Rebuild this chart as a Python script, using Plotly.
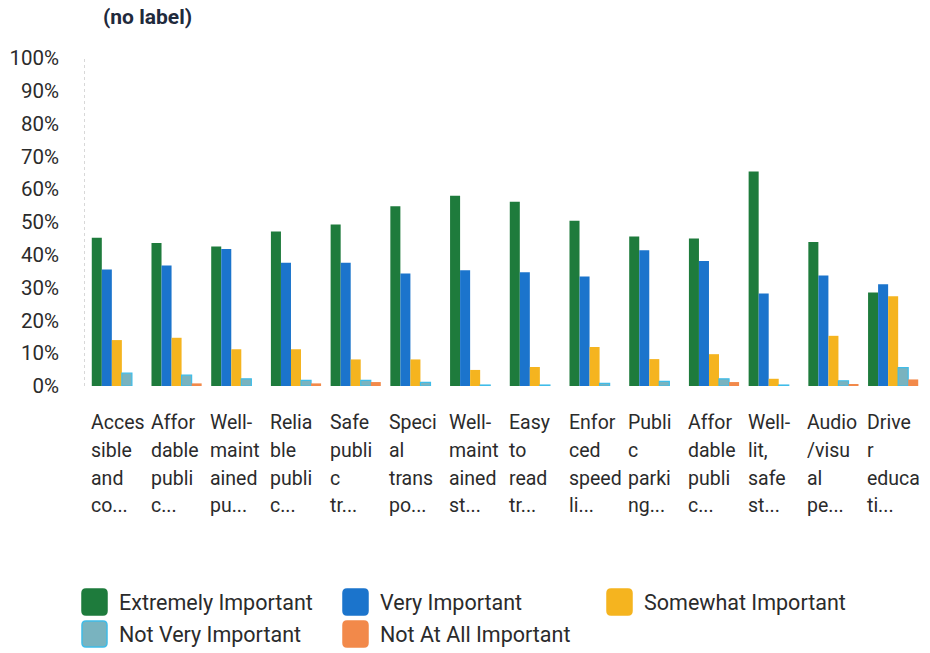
import plotly.graph_objects as go

categories = [
    "Acces<br>sible<br>and<br>co...",
    "Affor<br>dable<br>publi<br>c...",
    "Well-<br>maint<br>ained<br>pu...",
    "Relia<br>ble<br>publi<br>c...",
    "Safe<br>publi<br>c<br>tr...",
    "Speci<br>al<br>trans<br>po...",
    "Well-<br>maint<br>ained<br>st...",
    "Easy<br>to<br>read<br>tr...",
    "Enfor<br>ced<br>speed<br>li...",
    "Publi<br>c<br>parki<br>ng...",
    "Affor<br>dable<br>publi<br>c...",
    "Well-<br>lit,<br>safe<br>st...",
    "Audio<br>/visu<br>al<br>pe...",
    "Drive<br>r<br>educa<br>ti...",
]

series_names = ["Extremely Important", "Very Important", "Somewhat Important",
                "Not Very Important", "Not At All Important"]

extremely = [45.2, 43.6, 42.5, 47.1, 49.2, 54.8, 58.0, 56.2, 50.4, 45.6, 45.0, 65.4, 43.9, 28.5]
very = [35.5, 36.7, 41.8, 37.6, 37.6, 34.3, 35.3, 34.7, 33.4, 41.4, 38.1, 28.2, 33.7, 31.0]
somewhat = [14.0, 14.7, 11.2, 11.2, 8.1, 8.1, 4.9, 5.8, 11.9, 8.2, 9.7, 2.2, 15.3, 27.4]
not_very = [3.9, 3.3, 2.2, 1.7, 1.7, 1.1, 0.3, 0.3, 0.8, 1.4, 2.2, 0.3, 1.6, 5.6]
not_at_all = [0.0, 0.8, 0.0, 0.8, 1.2, 0.0, 0.0, 0.0, 0.0, 0.0, 1.2, 0.0, 0.5, 2.0]

y_ticks = [0, 10, 20, 30, 40, 50, 60, 70, 80, 90, 100]
y_tick_labels = [f"{v}%" for v in y_ticks]

colors = ["#1e7b3c", "#1b74cc", "#f5b41f", "#79b3bf", "#f2894a"]
line_colors = ["#1e7b3c", "#1b74cc", "#f5b41f", "#3fbce8", "#f2894a"]
series_values = [extremely, very, somewhat, not_very, not_at_all]

FONT = "Roboto, 'Noto Sans', sans-serif"
W, H = 930, 653
ML, MT = 87, 58
PW = 836
PH = 328
MR = W - ML - PW
MB = H - MT - PH

fig = go.Figure()
idx = list(range(len(categories)))
for name, vals, c, lc in zip(series_names, series_values, colors, line_colors):
    fig.add_trace(go.Bar(
        name=name, x=idx, y=vals,
        marker=dict(color=c, line=dict(color=lc, width=1.2 if lc != c else 0)),
        showlegend=False,
    ))


def px_x(p):
    return (p - ML) / PW


def px_y(p):
    return (MT + PH - p) / PH


annotations = []
LINE_H = 28
for i, lab in enumerate(categories):
    for j, part in enumerate(lab.split("<br>")):
        annotations.append(dict(
            x=i - 0.47, xref="x", y=px_y(422 + j * LINE_H), yref="paper",
            xanchor="left", yanchor="middle", align="left",
            text=part, showarrow=False,
            font=dict(family=FONT, size=19.5, color="#2b2b2b"),
        ))

annotations.append(dict(
    x=px_x(147), xref="paper", y=px_y(17), yref="paper",
    xanchor="center", yanchor="middle", text="<b>(no label)</b>", showarrow=False,
    font=dict(family=FONT, size=21, color="#1f2a3c"),
))

shapes = []
legend_pos = [(82, 602), (343, 602), (607, 602), (82, 634), (343, 634)]
sw, sh, r = 25, 26, 4
for (lx, ly), name, c, lc in zip(legend_pos, series_names, colors, line_colors):
    x0, x1 = lx, lx + sw
    y0, y1 = ly - sh / 2, ly + sh / 2
    rx = r / PW
    ry = r / PH
    X0, X1, Y0, Y1 = px_x(x0), px_x(x1), px_y(y1), px_y(y0)
    path = (f"M {X0 + rx},{Y0} L {X1 - rx},{Y0} Q {X1},{Y0} {X1},{Y0 + ry} "
            f"L {X1},{Y1 - ry} Q {X1},{Y1} {X1 - rx},{Y1} L {X0 + rx},{Y1} "
            f"Q {X0},{Y1} {X0},{Y1 - ry} L {X0},{Y0 + ry} Q {X0},{Y0} {X0 + rx},{Y0} Z")
    shapes.append(dict(type="path", xref="paper", yref="paper", path=path,
                       fillcolor=c, line=dict(color=lc, width=1.5)))
    annotations.append(dict(
        x=px_x(lx + 35), xref="paper", y=px_y(ly), yref="paper",
        xanchor="left", yanchor="middle", text=name, showarrow=False,
        font=dict(family=FONT, size=21.5, color="#2b2b2b"),
    ))

shapes.append(dict(type="line", xref="paper", yref="paper", x0=-0.003, x1=-0.003, y0=0, y1=1,
                   line=dict(color="#d8d8d8", width=1, dash="dot")))

fig.update_layout(
    width=W, height=H,
    margin=dict(l=ML, r=MR, t=MT, b=MB),
    paper_bgcolor="white", plot_bgcolor="white",
    barmode="group", bargap=0.16, bargroupgap=0,
    xaxis=dict(range=[-0.5, 13.5], showticklabels=False, showgrid=False,
               zeroline=False, showline=False, ticks=""),
    yaxis=dict(range=[0, 100], tickvals=y_ticks, ticktext=y_tick_labels,
               showgrid=False, zeroline=False, showline=False, ticks="",
               ticklabelstandoff=27,
               tickfont=dict(family=FONT, size=20.5, color="#2b2b2b")),
    annotations=annotations, shapes=shapes,
    font=dict(family=FONT),
)

fig.write_html("out.html", config={"displayModeBar": False},
               post_script="document.body.style.margin='0';document.body.style.overflow='hidden';")
